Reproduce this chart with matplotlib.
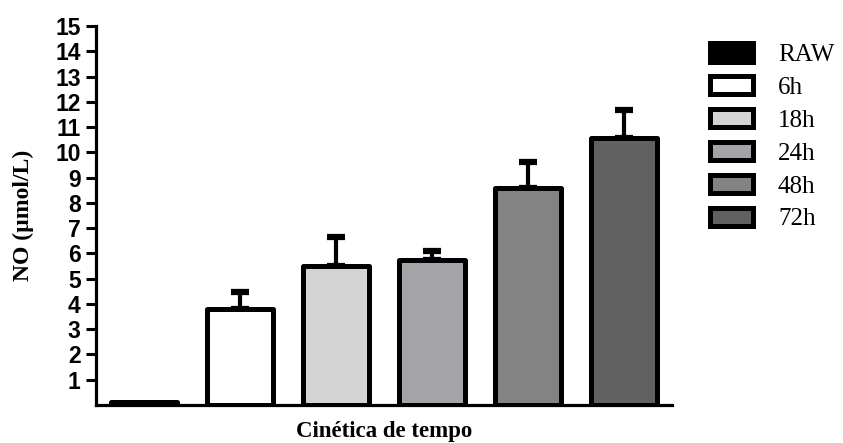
import matplotlib
matplotlib.use("Agg")
import matplotlib.pyplot as plt

# data
groups = ["RAW", "6h", "18h", "24h", "48h", "72h"]
no_values = [0.1, 3.8, 5.5, 5.72, 8.6, 10.55]
no_errors = [0.0, 0.68, 1.15, 0.37, 1.03, 1.12]
bar_colors = ["#000000", "#ffffff", "#d4d4d4", "#a3a3a8", "#838383", "#616161"]
yticks = list(range(1, 16))

fig = plt.figure(figsize=(8.43, 4.43), dpi=100)
ax = fig.add_axes([0.1139, 0.0858, 0.6833, 0.8555])

x = list(range(len(groups)))
bars = ax.bar(x, no_values, width=0.69, color=bar_colors, edgecolor="black",
              linewidth=3.6, label=groups, zorder=2)
for b in bars:
    b.set_joinstyle("round")

lower = [0] * len(no_errors)
ax.errorbar(x[1:], no_values[1:], yerr=[lower[1:], no_errors[1:]], fmt="none",
            ecolor="black", elinewidth=3.0, capsize=6.5, capthick=4.5, zorder=1)

ax.set_xlim(-0.5, 5.5)
ax.set_ylim(0, 15)
ax.set_xticks([])
ax.set_yticks(yticks)
ax.set_yticklabels([str(t) for t in yticks], fontfamily="Liberation Sans",
                   fontweight="bold", fontsize=16.5)
ax.tick_params(axis="y", length=7, width=2.2, pad=4)

for s in ["top", "right"]:
    ax.spines[s].set_visible(False)
for s in ["left", "bottom"]:
    ax.spines[s].set_linewidth(2.3)

ax.set_ylabel("NO (µmol/L)", fontfamily="Liberation Serif", fontweight="bold",
              fontsize=17)
ax.yaxis.set_label_coords(-0.108, 0.5)
ax.set_xlabel("Cinética de tempo", fontfamily="Liberation Serif",
              fontweight="bold", fontsize=16.5)
ax.xaxis.set_label_coords(0.5, -0.042)

ax.legend(handles=list(bars), labels=groups, loc="upper left",
          bbox_to_anchor=(0.830, 0.925), bbox_transform=fig.transFigure,
          frameon=False, prop={"family": "Liberation Serif", "size": 18},
          handlelength=1.75, handleheight=0.75, labelspacing=0.4,
          handletextpad=0.98, borderaxespad=0)

fig.savefig("out.png", dpi=100)
